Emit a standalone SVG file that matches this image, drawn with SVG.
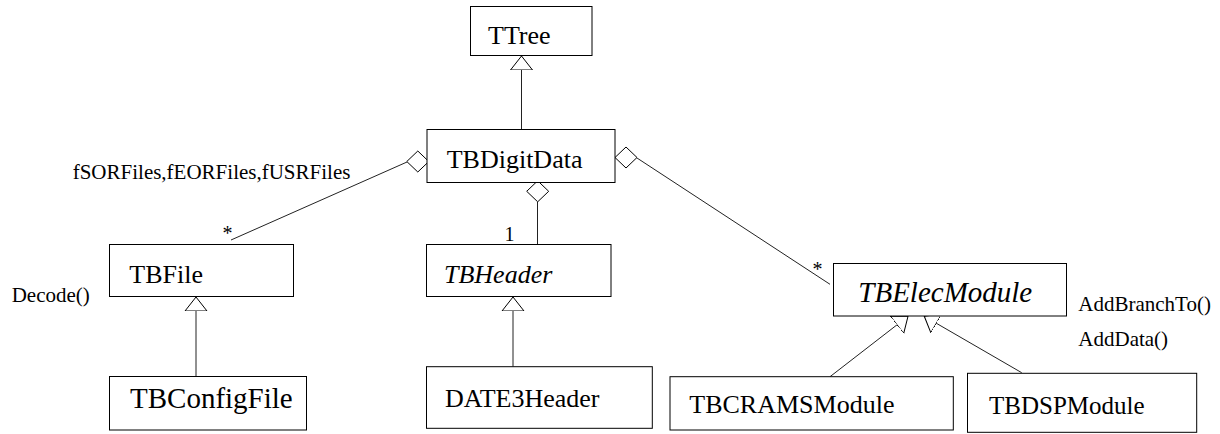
<svg xmlns="http://www.w3.org/2000/svg" width="1220" height="434" viewBox="0 0 1220 434">
  <style>
    .box { fill: #ffffff; stroke: #000000; stroke-width: 1; }
    .edge { fill: none; stroke: #222222; stroke-width: 1; }
    .diamond { fill: #ffffff; stroke: #000000; stroke-width: 1; }
    text { font-family: "Liberation Serif", "DejaVu Serif", serif; fill: #000000; }
    .name { font-size: 26px; }
    .abstract { font-style: italic; }
    .label { font-size: 21px; }
    .mult { font-size: 20px; }
  </style>
  <defs>
    <marker id="inherit" markerUnits="userSpaceOnUse" markerWidth="16" markerHeight="24" viewBox="0 -12 16 24" refX="14" refY="0" orient="auto">
      <path d="M0,-11 L14,0 L0,11 Z" fill="#ffffff" stroke="#000000" stroke-width="1"/>
    </marker>
    <polygon id="diamondShape" class="diamond" points="0,-10.5 11,0 0,10.5 -11,0"/>
  </defs>
  <rect width="1220" height="434" fill="#ffffff"/>

  <g id="connectors">
    <line class="edge" x1="521.5" y1="129.5" x2="521.5" y2="56" marker-end="url(#inherit)"/>
    <line class="edge" x1="196" y1="376" x2="196" y2="297" marker-end="url(#inherit)"/>
    <line class="edge" x1="513" y1="366.7" x2="513" y2="297" marker-end="url(#inherit)"/>
    <line class="edge" x1="830" y1="376.7" x2="908" y2="316.3" marker-end="url(#inherit)"/>
    <line class="edge" x1="1021.7" y1="372.7" x2="924.3" y2="316.3" marker-end="url(#inherit)"/>
    <line class="edge" x1="407" y1="162" x2="231" y2="240"/>
    <use href="#diamondShape" x="417.8" y="161.5"/>
    <line class="edge" x1="537.5" y1="201.7" x2="537.5" y2="244.5"/>
    <use href="#diamondShape" x="537.7" y="191.3"/>
    <line class="edge" x1="637" y1="158" x2="830" y2="284.3"/>
    <use href="#diamondShape" x="626" y="157.5"/>
  </g>

  <g id="TTree">
    <rect class="box" x="470.5" y="6.5" width="121.5" height="49"/>
    <text class="name" x="488" y="44" font-family="Liberation Serif, serif">TTree</text>
  </g>
  <g id="TBDigitData">
    <rect class="box" x="427" y="129.5" width="188" height="53"/>
    <text class="name" x="446.7" y="168.3">TBDigitData</text>
  </g>
  <g id="TBFile">
    <rect class="box" x="109.5" y="244.5" width="184" height="52"/>
    <text class="name" x="129.3" y="283.3">TBFile</text>
  </g>
  <g id="TBHeader">
    <rect class="box" x="426.5" y="244.5" width="184.5" height="52"/>
    <text class="name abstract" x="444" y="283.3">TBHeader</text>
  </g>
  <g id="TBElecModule">
    <rect class="box" x="833.5" y="263.5" width="233" height="52.5"/>
    <text class="abstract" x="858.3" y="301.7" font-size="29">TBElecModule</text>
  </g>
  <g id="TBConfigFile">
    <rect class="box" x="109.5" y="376.5" width="197" height="53.5"/>
    <text x="130" y="408.3" font-size="29">TBConfigFile</text>
  </g>
  <g id="DATE3Header">
    <rect class="box" x="426.5" y="366.7" width="225.8" height="61.6"/>
    <text class="name" x="445" y="406.7">DATE3Header</text>
  </g>
  <g id="TBCRAMSModule">
    <rect class="box" x="670" y="376.7" width="283.3" height="53.3"/>
    <text class="name" x="689.3" y="412.7">TBCRAMSModule</text>
  </g>
  <g id="TBDSPModule">
    <rect class="box" x="967.5" y="373.3" width="229.2" height="59"/>
    <text x="989" y="413.5" font-size="25">TBDSPModule</text>
  </g>

  <g id="labels">
    <text class="label" x="72.7" y="179.3">fSORFiles,fEORFiles,fUSRFiles</text>
    <text class="label" x="11.7" y="301.7">Decode()</text>
    <text class="label" x="1078.3" y="311">AddBranchTo()</text>
    <text class="label" x="1078.3" y="346">AddData()</text>
    <text class="mult" x="222.6" y="240">*</text>
    <text class="mult" x="504.5" y="240.7">1</text>
    <text class="mult" x="812.6" y="276">*</text>
  </g>
</svg>
